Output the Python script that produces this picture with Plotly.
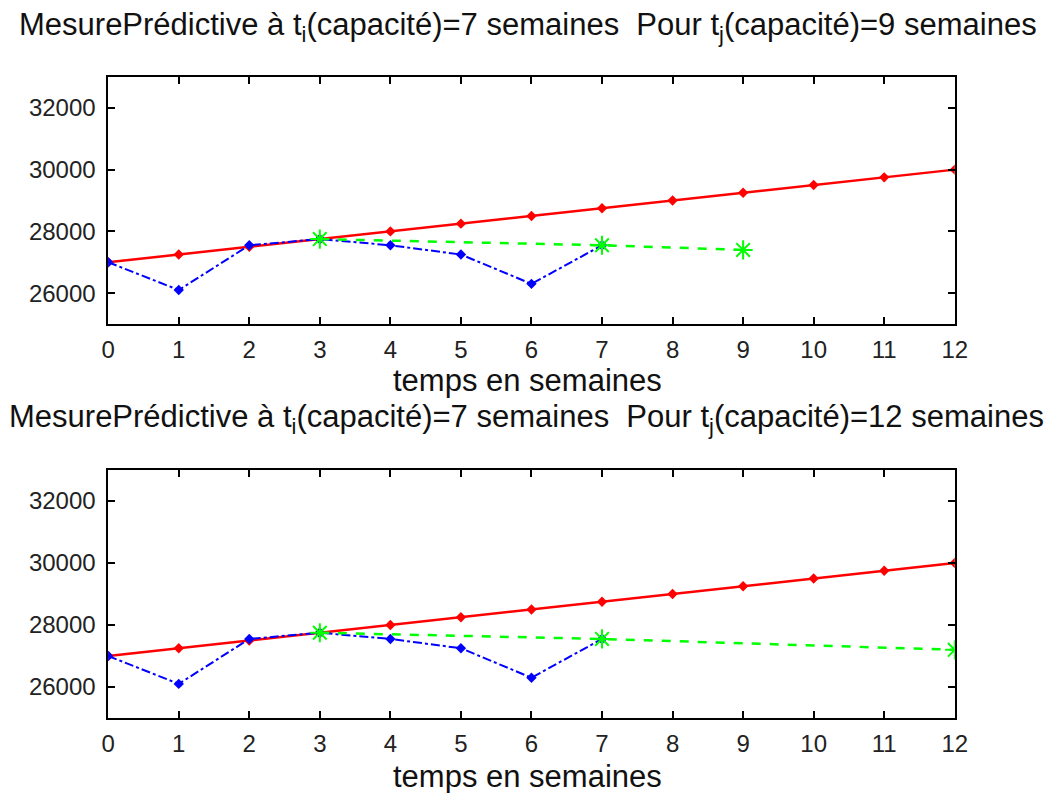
import plotly.graph_objects as go

# Data
weeks_red = list(range(13))
red_values = [27000, 27250, 27500, 27750, 28000, 28250, 28500, 28750, 29000, 29250, 29500, 29750, 30000]
weeks_blue = list(range(8))
blue_values = [27000, 26100, 27550, 27750, 27550, 27250, 26300, 27550]
weeks_green_top = [3, 7, 9]
green_values_top = [27750, 27550, 27400]
weeks_green_bot = [3, 7, 12]
green_values_bot = [27750, 27550, 27200]

x_ticks = list(range(13))
y_ticks = [26000, 28000, 30000, 32000]
y_ticktext = ["26000", "28000", "30000", "32000"]

title_top = "MesurePrédictive à t<sub>i</sub>(capacité)=7 semaines  Pour t<sub>j</sub>(capacité)=9 semaines"
title_bot = "MesurePrédictive à t<sub>i</sub>(capacité)=7 semaines  Pour t<sub>j</sub>(capacité)=12 semaines"
xlabel = "temps en semaines"

# page has an 8px body margin: figure occupies page pixels 8..1058, 8..793
OFF = 8
W, H = 1058 - OFF, 793 - OFF
FONT = "Liberation Sans, Arial, sans-serif"

fig = go.Figure()

def add_panel(xa, ya, gx, gy):
    fig.add_trace(go.Scatter(x=weeks_red, y=red_values, mode="lines+markers",
                             line=dict(color="#ff0000", width=2.5),
                             marker=dict(symbol="diamond", size=8, color="#ff0000"),
                             xaxis=xa, yaxis=ya, showlegend=False))
    fig.add_trace(go.Scatter(x=weeks_blue, y=blue_values, mode="lines+markers",
                             line=dict(color="#0000ff", width=2, dash="dashdot"),
                             marker=dict(symbol="diamond", size=8, color="#0000ff"),
                             xaxis=xa, yaxis=ya, showlegend=False))
    fig.add_trace(go.Scatter(x=gx, y=gy, mode="lines+markers",
                             line=dict(color="#00ff00", width=2.5, dash="dash"),
                             marker=dict(symbol="asterisk-open", size=16,
                                         line=dict(color="#00ff00", width=2)),
                             xaxis=xa, yaxis=ya, showlegend=False))

add_panel("x", "y", weeks_green_top, green_values_top)
add_panel("x2", "y2", weeks_green_bot, green_values_bot)

def px_x(p):
    return (p - OFF) / W

def px_y(p):
    return 1 - (p - OFF) / H

x_dom = [px_x(103), px_x(966)]
top_dom = [px_y(324), px_y(77)]
bot_dom = [px_y(718), px_y(470)]

axis_common = dict(showline=True, linecolor="black", linewidth=1.5, mirror="ticks",
                   ticks="inside", ticklen=7, tickcolor="black", tickwidth=1.5,
                   showgrid=False, zeroline=False,
                   tickfont=dict(family=FONT, size=24, color="#222222"))

fig.update_layout(
    width=W, height=H,
    margin=dict(l=0, r=0, t=0, b=0),
    paper_bgcolor="white", plot_bgcolor="white",
    xaxis=dict(domain=x_dom, anchor="y", range=[0, 12], tickvals=x_ticks,
               ticklabelstandoff=3, **axis_common),
    yaxis=dict(domain=top_dom, anchor="x", range=[25000, 33000], tickvals=y_ticks,
               ticktext=y_ticktext, ticklabelstandoff=6, **axis_common),
    xaxis2=dict(domain=x_dom, anchor="y2", range=[0, 12], tickvals=x_ticks,
                ticklabelstandoff=3, **axis_common),
    yaxis2=dict(domain=bot_dom, anchor="x2", range=[25000, 33000], tickvals=y_ticks,
                ticktext=y_ticktext, ticklabelstandoff=6, **axis_common),
)

def ann(text, xpx, ypx, size):
    fig.add_annotation(text=text, xref="paper", yref="paper",
                       x=px_x(xpx), y=px_y(ypx), showarrow=False,
                       xanchor="center", yanchor="middle",
                       font=dict(family=FONT, size=size, color="#111111"))

ann(title_top, 531, 27, 31)
ann(xlabel, 530, 380, 31)
ann(title_bot, 529, 419, 31)
ann(xlabel, 530, 776, 31)

fig.write_html("out.html")
